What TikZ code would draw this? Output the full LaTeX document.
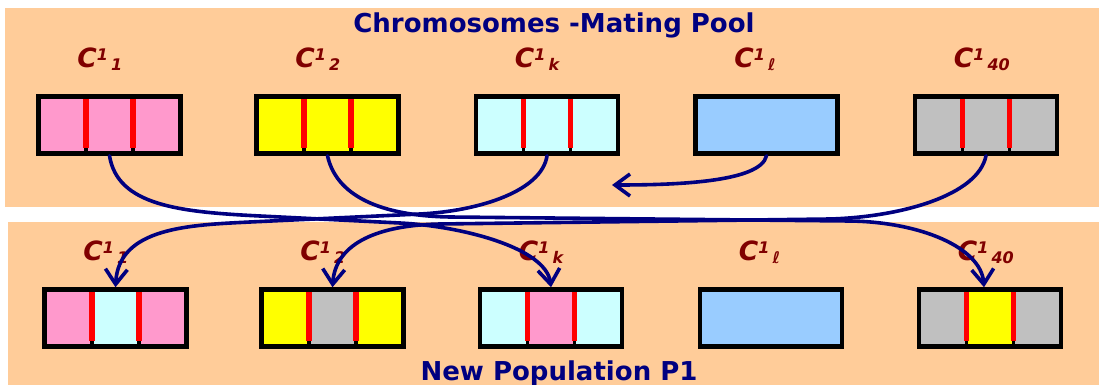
\documentclass[tikz,border=0pt]{standalone}
\usepackage{fontspec}
\setmainfont{DejaVu Sans}
\usetikzlibrary{calc,arrows.meta}
\definecolor{peach}{HTML}{FFCC99}
\definecolor{navyblue}{HTML}{000080}
\definecolor{maroon}{HTML}{800000}
\definecolor{pinkg}{HTML}{FF99CC}
\definecolor{yellowg}{HTML}{FFFF00}
\definecolor{cyang}{HTML}{CCFFFF}
\definecolor{blueg}{HTML}{99CCFF}
\definecolor{grayg}{HTML}{C0C0C0}
\tikzset{
    chrom/.style={draw,line width=4.5pt,minimum width=142pt,minimum height=57pt,inner sep=0pt,fill=#1},
    genes/.style={path picture={
        \fill[#1] ($(path picture bounding box.north west)!1/3!(path picture bounding box.north east)$) rectangle ($(path picture bounding box.south west)!2/3!(path picture bounding box.south east)$);
        \foreach \f in {1/3,2/3} {
            \draw[line width=3.5pt] ($(path picture bounding box.north west)!\f!(path picture bounding box.north east)$) -- ($(path picture bounding box.south west)!\f!(path picture bounding box.south east)$);
            \draw[line width=5.5pt,red] ($(path picture bounding box.north west)!\f!(path picture bounding box.north east)$) -- ($(path picture bounding box.south west)!\f!(path picture bounding box.south east)+(0,6pt)$);
        }}},
    heading/.style={anchor=base,inner sep=0pt,text=navyblue,font=\fontsize{26}{30}\selectfont\bfseries},
    lab/.style={anchor=base west,inner sep=0pt,text=maroon,font=\fontsize{26.5}{30}\selectfont\bfseries\itshape},
    arr/.style={draw=navyblue,line width=3.6pt,line cap=round,-{Straight Barb[length=15pt,width=22pt]}}
}
\newcommand{\chromlab}[1]{C\raisebox{7pt}{\fontsize{16}{16}\selectfont 1}\hspace{3pt}\raisebox{-3pt}{\fontsize{16}{16}\selectfont #1}}

\begin{document}
\begin{tikzpicture}[x=1pt,y=-1pt]
    \useasboundingbox (0,0) rectangle (1099,385);
    %---
    \fill[peach] (5,8) rectangle (1099,207);
    \fill[peach] (8,222) rectangle (1099,385);
    \node[heading] (pool) at (554,33) {Chromosomes -Mating Pool};
    \node[heading] (newpop) at (559,380) {New Population P1};

    %---
    \node[chrom=pinkg,genes=pinkg] (top-1) at (109.5,125) {};
    \node[chrom=yellowg,genes=yellowg] (top-2) at (327.5,125) {};
    \node[chrom=cyang,genes=cyang] (top-k) at (547,125) {};
    \node[chrom=blueg] (top-l) at (766.5,125) {};
    \node[chrom=grayg,genes=grayg] (top-40) at (986,125) {};

    \node[chrom=pinkg,genes=cyang] (new-1) at (115.5,318) {};
    \node[chrom=yellowg,genes=grayg] (new-2) at (332.5,318) {};
    \node[chrom=cyang,genes=pinkg] (new-k) at (551,318) {};
    \node[chrom=blueg] (new-l) at (771,318) {};
    \node[chrom=grayg,genes=yellowg] (new-40) at (990,318) {};

    \foreach \n/\s in {1/1,2/2,k/k,l/ℓ,40/40} {
        \node[lab] (lab-top-\n) at ([xshift=41pt,yshift=27pt]top-\n.north west) {\chromlab{\s}};
        \node[lab] (lab-new-\n) at ([xshift=41pt,yshift=27pt]new-\n.north west) {\chromlab{\s}};
    }

    %---
    \coordinate (drop) at (612,185);
    \begin{scope}[every path/.style={arr}]
        \draw (top-1.south) .. controls +(8,50) and +(-80,-4) .. (260,216) -- (400,223)
            .. controls +(60,3) and +(-5,-40) .. (new-k.north);
        \draw (top-k.south) .. controls +(-5,35) and +(60,-3) .. (420,214) -- (250,222)
            .. controls +(-60,3) and +(3,-60) .. (new-1.north);
        \draw (top-2.south) .. controls +(10,45) and +(-60,-1) .. (450,217) -- (850,221)
            .. controls +(70,1) and +(-3,-40) .. ([xshift=-6pt]new-40.north);
        \draw (top-40.south) .. controls +(-8,40) and +(70,-2) .. (830,219) -- (440,224)
            .. controls +(-60,1) and +(3,-45) .. (new-2.north);
        \draw (top-l.south) .. controls +(-6,27) and +(60,0) .. (drop);
    \end{scope}
\end{tikzpicture}
\end{document}
